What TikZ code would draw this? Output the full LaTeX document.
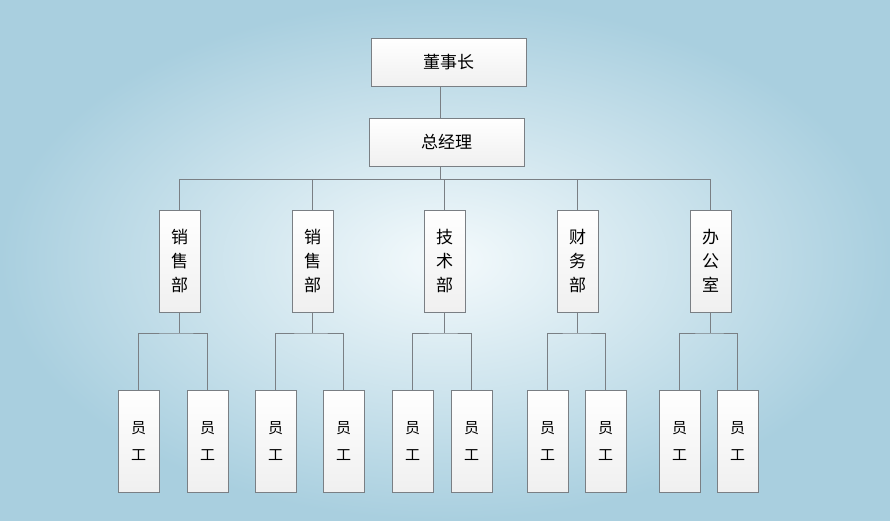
\documentclass[tikz,border=0pt]{standalone}
\usepackage{fontspec}
\newfontfamily\cjk{Noto Sans CJK SC}
\usetikzlibrary{shadings}
\definecolor{bgedge}{HTML}{A9CFDF}
\definecolor{bgmid}{HTML}{F4FAFC}
\definecolor{boxline}{HTML}{7A7F84}
\tikzset{
  x=1pt,y=-1pt,
  box/.style={draw=boxline,line width=0.8pt,top color=white,bottom color=gray!12,inner sep=0pt,font=\cjk},
  top/.style={box,minimum width=155pt,minimum height=48pt,font=\cjk\fontsize{17}{20}\selectfont},
  dept/.style={box,minimum width=41pt,minimum height=102pt,align=center,font=\cjk\fontsize{17}{24}\selectfont},
  emp/.style={box,minimum width=41pt,minimum height=102pt,align=center,font=\cjk\fontsize{15}{27}\selectfont},
  ln/.style={draw=boxline,line width=0.8pt}
}
\begin{document}
\begin{tikzpicture}
\shade[inner color=bgmid,outer color=bgedge] (0,0) rectangle (890,520);
\useasboundingbox (0,0) rectangle (890,520);
\node[top] (ceo) at (448.5,62) {董事长};
\node[top] (gm) at (446.5,142) {总经理};
\coordinate (bus) at (440,179);
\foreach \n/\x/\t/\a/\b in {d1/179.5/销\\售\\部/138.5/207.5, d2/312.5/销\\售\\部/275.5/343.5, d3/444.5/技\\术\\部/412.5/471.5, d4/577.5/财\\务\\部/547.5/605.5, d5/710.5/办\\公\\室/679.5/737.5}{
  \node[dept] (\n) at (\x,261) {\t};
  \node[emp] (\n a) at (\a,441) {员\\工};
  \node[emp] (\n b) at (\b,441) {员\\工};
  \coordinate (\n j) at (\x,333);
  \draw[ln] (\n.south) -- (\n j);
  \draw[ln] (\n a.north) |- (\n j) -| (\n b.north);
  \draw[ln] (\n.north) -- (\x,179);
}
\draw[ln] (bus |- ceo.south) -- (bus |- gm.north);
\draw[ln] (bus |- gm.south) -- (bus);
\draw[ln] (d1.north |- bus) -- (d5.north |- bus);
\end{tikzpicture}
\end{document}
